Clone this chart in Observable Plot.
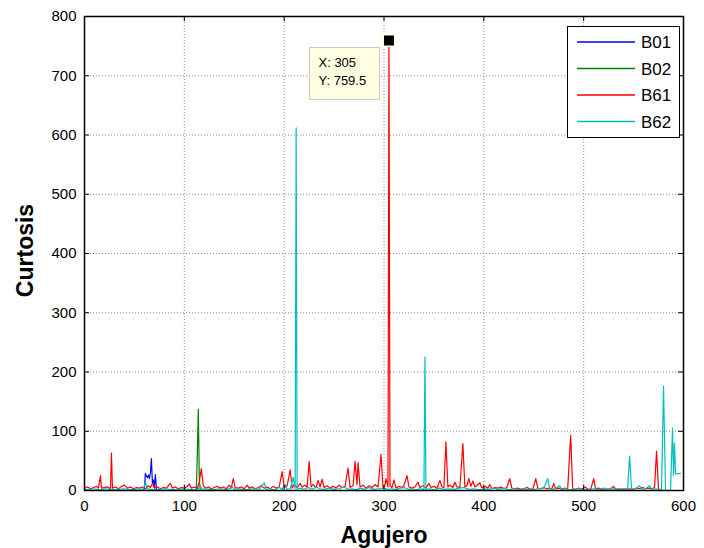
<!DOCTYPE html>
<html><head><meta charset="utf-8">
<script src="https://cdn.jsdelivr.net/npm/d3@7"></script>
<script src="https://cdn.jsdelivr.net/npm/@observablehq/plot@0.6"></script>
<style>
body{margin:0;background:#fff;font-family:"Liberation Sans",Arial,sans-serif;}
#wrap{position:relative;width:704px;height:548px;overflow:hidden;}
#legend{position:absolute;left:567px;top:26px;}
#tip{position:absolute;background:#ffffe1;border:1px solid #c8c8c8;box-sizing:border-box;font-size:13px;line-height:18px;padding:6px 0 0 8px;color:#000;}
</style></head><body><div id="wrap"></div>
<script>
const xTicks = [0,100,200,300,400,500,600];
const yTicks = [0,100,200,300,400,500,600,700,800];
const seriesNames = ["B01","B02","B61","B62"];
const seriesColors = ["#0000ff","#008000","#ff0000","#00bfbf"];
const xLabel = "Agujero";
const yLabel = "Curtosis";
const tipPoint = [305, 759.5];

const b01 = [[58,0],[60,2],[61,29],[62,24],[63,22],[64,26],[65,20],[66,30],[67,54],[68,13],[69,18],[70,6],[71,27],[72,3],[73,0],[118,0]];
const b02 = [[110,0],[112,0],[113,60],[114,137],[115,20],[116,0],[600,0]];
const b61 = [[0,4],[3,6],[6,3],[9,5],[12,7],[14,4],[16,25],[17,4],[20,5],[23,6],[26,3],[27,63],[28,4],[31,6],[34,3],[37,7],[40,9],[43,4],[46,6],[49,3],[52,5],[55,4],[58,6],[61,3],[64,8],[66,5],[68,12],[70,4],[73,6],[76,3],[79,5],[82,4],[86,12],[88,4],[91,6],[94,3],[97,5],[100,4],[103,7],[105,11],[107,4],[110,6],[113,3],[115,15],[117,37],[119,8],[121,4],[124,6],[127,3],[130,5],[133,7],[136,4],[139,6],[142,3],[145,9],[147,4],[149,20],[151,5],[154,4],[157,6],[160,3],[163,9],[165,4],[168,6],[171,3],[174,5],[177,8],[180,4],[183,6],[186,3],[189,7],[192,4],[195,6],[198,32],[200,5],[203,8],[206,35],[208,4],[210,10],[213,5],[216,12],[218,6],[221,9],[223,5],[225,49],[227,6],[229,10],[232,5],[234,17],[236,6],[238,19],[240,5],[243,8],[246,4],[249,7],[252,4],[255,9],[258,5],[261,7],[264,38],[266,5],[269,8],[271,49],[273,10],[274,47],[276,6],[279,9],[282,4],[285,8],[288,5],[291,10],[294,6],[297,61],[299,5],[301,9],[302,20],[304,6],[305,759.5],[306,8],[308,5],[310,18],[312,4],[315,7],[318,5],[320,8],[323,25],[325,6],[328,4],[331,6],[334,14],[336,5],[339,8],[342,4],[345,12],[347,5],[350,7],[353,4],[356,17],[358,6],[360,5],[362,82],[364,6],[366,9],[369,5],[371,14],[373,6],[376,5],[379,79],[381,6],[383,8],[385,20],[387,7],[389,16],[391,6],[393,8],[396,13],[398,5],[401,7],[404,4],[406,10],[408,3],[411,5],[414,4],[417,6],[420,3],[423,5],[426,20],[428,4],[431,3],[434,4],[437,2],[440,3],[443,5],[446,3],[449,2],[452,20],[454,4],[457,3],[460,5],[463,3],[466,4],[468,2],[470,12],[472,3],[475,4],[478,2],[481,4],[484,3],[487,93],[489,3],[492,2],[495,4],[498,2],[501,6],[504,3],[507,2],[510,20],[512,3],[515,4],[518,2],[521,3],[524,2],[527,3],[530,7],[532,2],[535,3],[538,2],[541,3],[544,2],[547,3],[550,2],[553,4],[556,3],[559,5],[562,3],[565,4],[568,3],[571,5],[573,66],[575,3],[577,0],[600,0]];
const b62 = [[0,2],[4,1],[8,3],[12,2],[16,1],[20,3],[25,2],[30,1],[35,2],[40,3],[45,1],[50,2],[55,3],[59,2],[61,14],[63,3],[66,2],[70,1],[75,2],[80,3],[85,2],[90,1],[95,2],[100,3],[105,2],[110,1],[114,3],[116,8],[118,2],[122,3],[127,1],[132,2],[137,3],[142,1],[148,6],[150,2],[155,3],[160,1],[165,2],[170,3],[175,2],[180,13],[182,2],[186,3],[190,1],[195,5],[198,2],[201,10],[203,2],[206,3],[209,22],[211,3],[212,612],[213,2],[216,4],[220,2],[224,5],[228,2],[232,6],[236,3],[240,2],[245,4],[250,2],[255,3],[260,6],[264,2],[268,3],[272,1],[276,4],[280,2],[285,5],[290,2],[295,3],[300,4],[304,2],[308,3],[312,1],[316,4],[320,5],[324,2],[328,3],[332,1],[336,3],[340,2],[341,225],[342,2],[346,3],[350,1],[355,4],[360,2],[365,3],[370,2],[375,4],[380,5],[385,2],[390,3],[395,1],[400,3],[405,2],[410,4],[415,2],[420,4],[425,1],[430,3],[435,2],[440,3],[445,1],[450,2],[455,3],[460,4],[464,20],[466,3],[470,2],[476,8],[478,2],[482,3],[486,1],[490,2],[495,3],[500,2],[505,1],[510,3],[515,2],[520,4],[525,2],[530,3],[535,2],[540,3],[544,2],[546,58],[548,2],[552,3],[556,8],[558,2],[562,3],[566,8],[568,2],[572,3],[576,2],[578,0],[580,176],[582,0],[587,0],[589,105],[590,25],[591,80],[592,28],[597,29]];

const seriesData = [b01, b02, b61, b62];
const fw = 704 - 84 - 21, fh = 548 - 16 - 58;
const fontFamily = '"Liberation Sans", Arial, sans-serif';

const lineMarks = seriesData.map((s, i) => Plot.line(s, {x: d => d[0], y: d => d[1], stroke: seriesColors[i], strokeWidth: 1.2}));

const chart = Plot.plot({
  width: 704, height: 548,
  marginLeft: 84, marginRight: 21, marginTop: 16, marginBottom: 58,
  x: {domain: [0, 600]},
  y: {domain: [0, 800]},
  style: {fontFamily, fontSize: "15px", background: "white", color: "black", overflow: "visible"},
  marks: [
    Plot.ruleX(xTicks.slice(1, -1), {x: d => d, stroke: "#000", strokeOpacity: 0.45, strokeDasharray: "1,2"}),
    Plot.ruleY(yTicks.slice(1, -1), {y: d => d, stroke: "#000", strokeOpacity: 0.45, strokeDasharray: "1,2"}),
    ...lineMarks,
    Plot.tickX(xTicks, {x: d => d, stroke: "#000", insetTop: fh - 5}),
    Plot.tickX(xTicks, {x: d => d, stroke: "#000", insetBottom: fh - 5}),
    Plot.tickY(yTicks, {y: d => d, stroke: "#000", insetRight: fw - 5}),
    Plot.tickY(yTicks, {y: d => d, stroke: "#000", insetLeft: fw - 5}),
    Plot.frame({stroke: "#000", strokeWidth: 1.5}),
    Plot.axisX({ticks: xTicks, tickSize: 0, tickPadding: 10, fontSize: 15, label: null}),
    Plot.axisY({ticks: yTicks, tickSize: 0, tickPadding: 8, fontSize: 15, label: null}),
    Plot.text([xLabel], {frameAnchor: "bottom", text: d => d, textAnchor: "middle", lineAnchor: "middle", dy: 45, fontSize: 23, fontWeight: "bold"}),
    Plot.text([yLabel], {frameAnchor: "left", text: d => d, textAnchor: "middle", lineAnchor: "middle", rotate: -90, dx: -59, dy: -3, fontSize: 23, fontWeight: "bold"}),
    Plot.dot([tipPoint], {x: d => d[0], y: d => d[1], symbol: "square", r: 6.5, fill: "#000", stroke: "#ffffe1", strokeWidth: 1.5})
  ]
});

const wrap = document.getElementById("wrap");
wrap.appendChild(chart);

// legend (inline svg)
const ns = "http://www.w3.org/2000/svg";
const leg = document.createElementNS(ns, "svg");
leg.setAttribute("id", "legend");
leg.setAttribute("width", "113");
leg.setAttribute("height", "112");
const box = document.createElementNS(ns, "rect");
box.setAttribute("x", "0.5"); box.setAttribute("y", "0.5");
box.setAttribute("width", "112"); box.setAttribute("height", "111");
box.setAttribute("fill", "#fff"); box.setAttribute("stroke", "#000");
leg.appendChild(box);
const rowY = [16, 42.5, 69, 95.5];
seriesNames.forEach((name, i) => {
  const l = document.createElementNS(ns, "line");
  l.setAttribute("x1", "10"); l.setAttribute("x2", "68");
  l.setAttribute("y1", rowY[i]); l.setAttribute("y2", rowY[i]);
  l.setAttribute("stroke", seriesColors[i]); l.setAttribute("stroke-width", "1.3");
  leg.appendChild(l);
  const t = document.createElementNS(ns, "text");
  t.setAttribute("x", "74"); t.setAttribute("y", rowY[i] + 6);
  t.setAttribute("font-size", "17"); t.setAttribute("font-family", fontFamily);
  t.setAttribute("fill", "#000");
  t.textContent = name;
  leg.appendChild(t);
});
wrap.appendChild(leg);

// data tip
const sx = chart.scale("x"), sy = chart.scale("y");
const mx = sx.apply(tipPoint[0]), my = sy.apply(tipPoint[1]);
const tip = document.createElement("div");
tip.id = "tip";
tip.style.left = (mx - 79) + "px";
tip.style.top = (my + 7) + "px";
tip.style.width = "71px";
tip.style.height = "53px";
tip.innerHTML = "X: " + tipPoint[0] + "<br>Y: " + tipPoint[1];
wrap.appendChild(tip);
</script></body></html>
